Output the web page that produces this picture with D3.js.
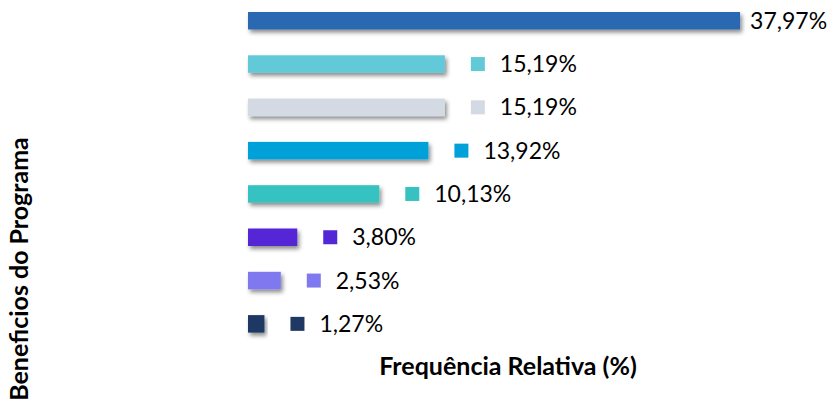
<!DOCTYPE html>
<meta charset="utf-8">
<style>
body { margin: 0; background: #fff; }
text { font-family: Lato, "Open Sans", sans-serif; fill: #000; }
</style>
<body>
<script src="https://d3js.org/d3.v7.min.js"></script>
<script>
var width = 832,
	height = 400;

// one bar per programme benefit, top to bottom
var categories = ["b1", "b2", "b3", "b4", "b5", "b6", "b7", "b8"];
var values = [37.97, 15.19, 15.19, 13.92, 10.13, 3.80, 2.53, 1.27];
var labels = ["37,97%", "15,19%", "15,19%", "13,92%", "10,13%", "3,80%", "2,53%", "1,27%"];
var colors = ["#2b67b1", "#62c9d9", "#d4dae4", "#00a0d8", "#36c2c0", "#5427d6", "#7f78ee", "#1f3864"];

var svg = d3.select("body").append("svg")
			.attr("width", width)
			.attr("height", height);

var shadow = svg.append("defs").append("filter")
				.attr("id", "shadow")
				.attr("x", "-10%").attr("y", "-50%")
				.attr("width", "130%").attr("height", "220%");
shadow.append("feDropShadow")
	.attr("dx", 2)
	.attr("dy", 3)
	.attr("stdDeviation", 2)
	.attr("flood-color", "#000")
	.attr("flood-opacity", 0.45);

var x = d3.scaleLinear()
			.domain([0, 40])
			.range([248, 248 + 40 * 12.96]);

var y = d3.scaleBand()
			.domain(categories)
			.range([12, 332.6])
			.paddingInner(0.596)
			.paddingOuter(0);

var rows = svg.append("g").selectAll("g")
			.data(categories)
			.enter().append("g");

rows.append("rect")
	.attr("x", x(0))
	.attr("y", function(d) { return y(d); })
	.attr("width", function(d, i) { return x(values[i]) - x(0); })
	.attr("height", y.bandwidth())
	.style("fill", function(d, i) { return colors[i]; })
	.attr("filter", "url(#shadow)");

// legend key square beside each label, except the longest bar
rows.filter(function(d, i) { return i > 0; })
	.append("rect")
	.attr("x", function(d) { var i = categories.indexOf(d); return x(values[i]) + 26; })
	.attr("y", function(d) { return y(d) + y.bandwidth() / 2 - 7; })
	.attr("width", 14)
	.attr("height", 14)
	.style("fill", function(d) { return colors[categories.indexOf(d)]; });

rows.append("text")
	.attr("x", function(d, i) { return i == 0 ? x(values[i]) + 10 : x(values[i]) + 55; })
	.attr("y", function(d) { return y(d) + y.bandwidth() / 2 + 8; })
	.style("font-size", "23px")
	.text(function(d, i) { return labels[i]; });

svg.append("text")
	.attr("x", 508)
	.attr("y", 375)
	.attr("text-anchor", "middle")
	.style("font-size", "25px")
	.style("font-weight", "bold")
	.text("Frequência Relativa (%)");

svg.append("text")
	.attr("transform", "translate(28," + 269 + ")rotate(-90)")
	.attr("text-anchor", "middle")
	.style("font-size", "25px")
	.style("font-weight", "bold")
	.text("Beneficios do Programa");
</script>
</body>
